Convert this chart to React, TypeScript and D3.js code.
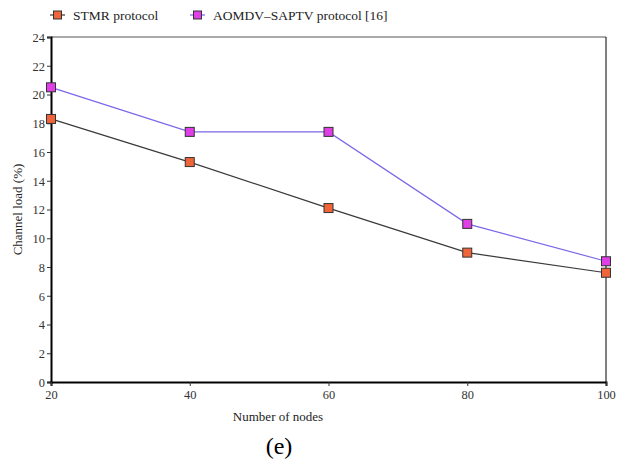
import * as d3 from 'd3';
import React, { useEffect, useRef } from 'react';

const nodes = [20, 40, 60, 80, 100];
const stmr = [18.3, 15.3, 12.1, 9.0, 7.6];
const aomdv = [20.5, 17.4, 17.4, 11.0, 8.4];
const yTicks = [0, 2, 4, 6, 8, 10, 12, 14, 16, 18, 20, 22, 24];

const series = [
  { name: 'STMR protocol', values: stmr, line: '#3a3a3a', fill: '#f0643a' },
  { name: 'AOMDV\u2013SAPTV protocol [16]', values: aomdv, line: '#7b68e8', fill: '#e03ee6' },
];

function drawChart(el: SVGSVGElement) {
  const width = 617;
  const height = 463;
  const m = { left: 51, right: 11, top: 37, bottom: 81 };
  const svg = d3.select(el);
  svg.selectAll('*').remove();
  svg.attr('width', width).attr('height', height).style('background', '#fff');

  const x = d3.scaleLinear().domain([20, 100]).range([m.left, width - m.right]);
  const y = d3.scaleLinear().domain([0, 24]).range([height - m.bottom, m.top]);

  const font = "'Liberation Serif', 'Times New Roman', serif";

  // frame
  svg.append('line').attr('x1', x(20)).attr('x2', x(100)).attr('y1', y(24)).attr('y2', y(24))
    .attr('stroke', '#555').attr('stroke-width', 1);
  svg.append('line').attr('x1', x(100)).attr('x2', x(100)).attr('y1', y(24)).attr('y2', y(0))
    .attr('stroke', '#000').attr('stroke-width', 1);

  const yAxis = svg.append('g').attr('transform', `translate(${x(20)},0)`)
    .call(d3.axisLeft(y).tickValues(yTicks).tickSize(4).tickPadding(2).tickFormat(d3.format('d')));
  const xAxis = svg.append('g').attr('transform', `translate(0,${y(0)})`)
    .call(d3.axisBottom(x).tickValues(nodes).tickSize(4).tickPadding(3).tickFormat(d3.format('d')));

  [yAxis, xAxis].forEach(g => {
    g.attr('font-family', null).attr('font-size', null);
    g.select('.domain').attr('stroke', '#000').attr('stroke-width', 2);
    g.selectAll('.tick line').attr('stroke', '#333');
    g.selectAll('text').style('font-family', font).style('font-size', '13.5px').attr('fill', '#333');
  });
  xAxis.selectAll('.tick text').attr('transform', 'scale(0.92,1)');
  yAxis.selectAll('.tick text').attr('transform', 'scale(0.92,1)').attr('x', -6 / 0.92);

  const line = d3.line<number>().x((_, i) => x(nodes[i])).y(d => y(d));

  series.forEach(s => {
    svg.append('path').datum(s.values).attr('fill', 'none').attr('stroke', s.line)
      .attr('stroke-width', 1.2).attr('d', line);
    svg.selectAll(null).data(s.values).enter().append('rect')
      .attr('x', (_, i) => x(nodes[i]) - 4.5).attr('y', d => y(d) - 4.5)
      .attr('width', 9).attr('height', 9)
      .attr('fill', s.fill).attr('stroke', '#333').attr('stroke-width', 1);
  });

  // legend
  const legX = [50, 190];
  series.forEach((s, i) => {
    const g = svg.append('g').attr('transform', `translate(${legX[i]},15)`);
    g.append('line').attr('x1', 0).attr('x2', 15).attr('y1', 0).attr('y2', 0)
      .attr('stroke', s.line).attr('stroke-width', 1.2);
    g.append('rect').attr('x', 3.5).attr('y', -4).attr('width', 8).attr('height', 8)
      .attr('fill', s.fill).attr('stroke', '#333');
    g.append('text').attr('x', 23).attr('y', 4.5).style('font-family', font)
      .style('font-size', '13.5px').attr('fill', '#222').text(s.name);
  });

  svg.append('text').attr('transform', `translate(22,${(y(0) + y(24)) / 2}) rotate(-90)`)
    .attr('text-anchor', 'middle').style('font-family', font).style('font-size', '13px')
    .attr('fill', '#222').text('Channel load (%)');
  svg.append('text').attr('x', 278).attr('y', 421).attr('text-anchor', 'middle')
    .style('font-family', font).style('font-size', '13px').attr('fill', '#222').text('Number of nodes');
  svg.append('text').attr('x', 279).attr('y', 454).attr('text-anchor', 'middle')
    .style('font-family', font).style('font-size', '24px').attr('fill', '#000').text('(e)');
}

function App() {
  const ref = useRef<SVGSVGElement>(null);
  useEffect(() => {
    if (ref.current) drawChart(ref.current);
  });
  return <svg ref={ref} style={{ position: 'absolute', left: 0, top: 0 }}></svg>;
}

export default App;
